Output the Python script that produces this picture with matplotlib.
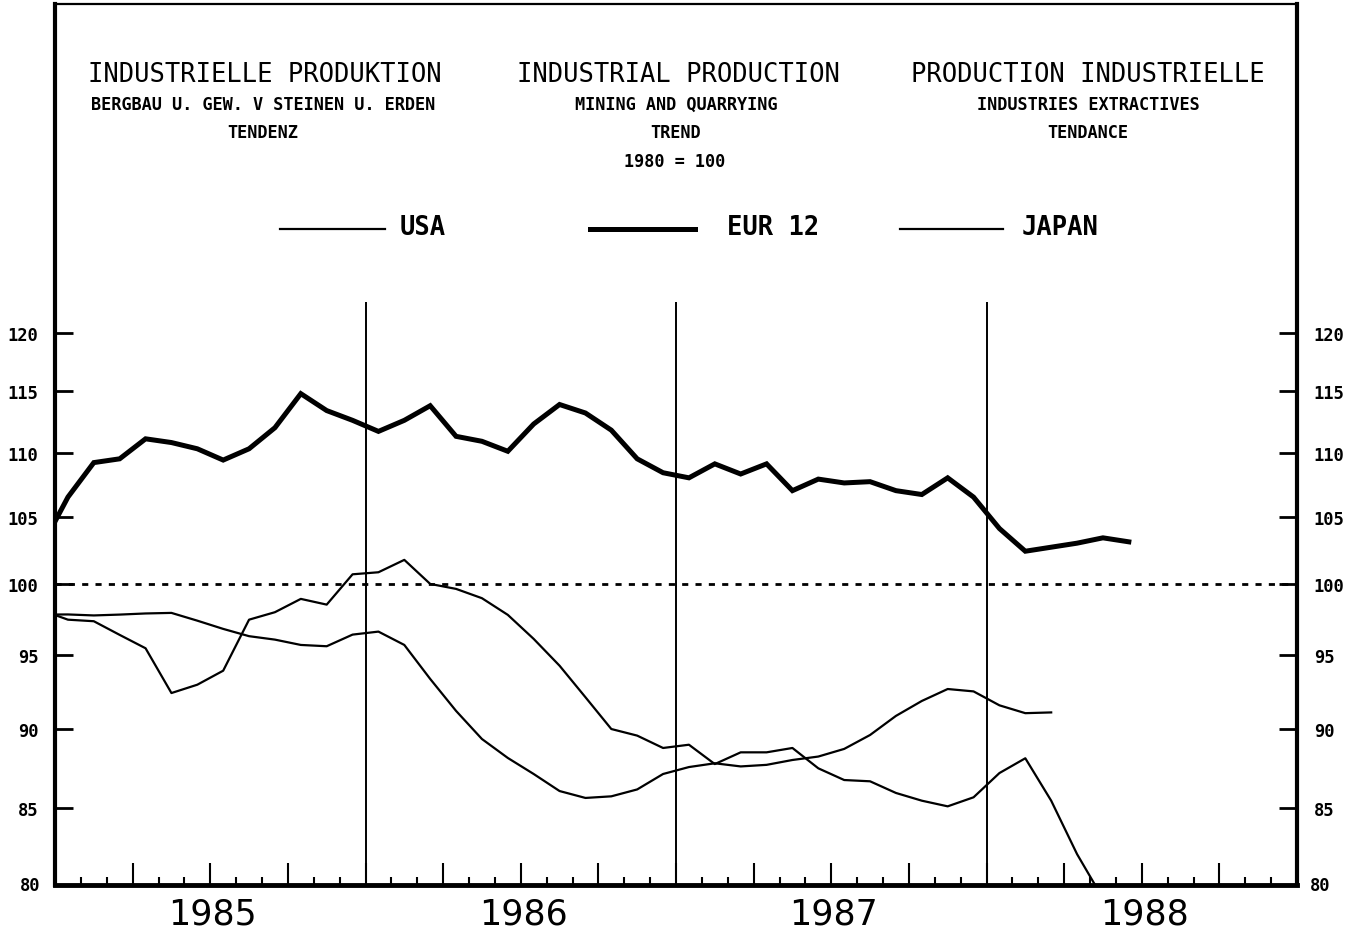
import numpy as np
import matplotlib
matplotlib.use("Agg")
import matplotlib.pyplot as plt
from matplotlib.lines import Line2D
from matplotlib.ticker import NullLocator, MultipleLocator, NullFormatter

# monthly values, first entry = Dec 1984 (clipped at the left edge)
eur12 = [102.8,
         106.5, 109.2, 109.5, 111.1, 110.8, 110.3, 109.4, 110.3, 112.0, 114.8, 113.4, 112.6,
         111.7, 112.6, 113.8, 111.3, 110.9, 110.1, 112.3, 113.9, 113.2, 111.8, 109.5, 108.4,
         108.0, 109.1, 108.3, 109.1, 107.0, 107.9, 107.6, 107.7, 107.0, 106.7, 108.0, 106.5,
         104.1, 102.4, 102.7, 103.0, 103.4, 103.1]
usa = [97.8,
       97.81, 97.74, 97.8, 97.88, 97.92, 97.37, 96.79, 96.28, 96.04, 95.67, 95.58, 96.39,
       96.6, 95.67, 93.34, 91.2, 89.36, 88.14, 87.12, 86.05, 85.62, 85.72, 86.15, 87.12,
       87.56, 87.8, 87.6, 87.7, 88.01, 88.23, 88.72, 89.62, 90.87, 91.86, 92.66, 92.5,
       91.57, 91.05, 91.1]
japan = [98.1,
         97.44, 97.33, 96.37, 95.44, 92.39, 92.95, 93.9, 97.44, 97.97, 98.92, 98.51, 100.7,
         100.85, 101.76, 100.0, 99.64, 98.97, 97.78, 96.09, 94.24, 92.11, 90.01, 89.58, 88.78,
         88.99, 87.75, 88.5, 88.5, 88.78, 87.48, 86.74, 86.66, 85.93, 85.45, 85.1, 85.66,
         87.18, 88.12, 85.45, 82.2, 79.6]
years = ["1985", "1986", "1987", "1988"]
y_ticks = [85, 90, 95, 100, 105, 110, 115, 120]

MONO = "DejaVu Sans Mono"
W, H = 1356, 937

fig = plt.figure(figsize=(W / 100, H / 100), dpi=100)
ax = fig.add_axes([55 / W, 51 / H, 1242 / W, 881 / H])

def mx(series):
    # month midpoints, Jan 1985 = 0.5, first value is Dec 1984
    return np.arange(len(series)) - 0.5

ax.plot(mx(eur12), eur12, color="black", lw=3.6, solid_joinstyle="miter", zorder=4)
ax.plot(mx(usa), usa, color="black", lw=1.6, zorder=4)
ax.plot(mx(japan), japan, color="black", lw=1.6, zorder=4)

ax.set_yscale("log")
ymin, ymax = 80.38, 152.3
ax.set_ylim(ymin, ymax)
ax.set_xlim(0, 48)

ax.axhline(100, color="black", lw=2, ls=(0, (2.2, 2.6)), zorder=2)
ax.vlines([12, 24, 36], ymin, 122.7, color="black", lw=1.4, zorder=3)

# axes ticks
ax.yaxis.set_minor_locator(NullLocator())
ax.yaxis.set_minor_formatter(NullFormatter())
ax.set_yticks(y_ticks)
ax.set_yticklabels([str(v) for v in y_ticks])
ax.tick_params(axis="y", which="major", direction="in", length=13, width=2,
               left=True, right=True, labelleft=True, labelright=True, pad=12)
for lab in ax.get_yticklabels():
    lab.set_fontfamily(MONO)
    lab.set_fontweight("bold")
    lab.set_fontsize(12.3)

ax.xaxis.set_major_locator(MultipleLocator(3))
ax.xaxis.set_minor_locator(MultipleLocator(1))
ax.xaxis.set_major_formatter(NullFormatter())
ax.tick_params(axis="x", which="major", direction="in", length=16, width=1.5, top=False)
ax.tick_params(axis="x", which="minor", direction="in", length=6, width=1.5, top=False)

for side, lw in [("left", 3), ("right", 3), ("bottom", 3.5), ("top", 1.6)]:
    ax.spines[side].set_linewidth(lw)

for tx in (-0.012, 1.0105):
    ax.text(tx, 0.0, "80", transform=ax.transAxes, ha="right" if tx < 0 else "left",
            va="center", fontfamily=MONO, fontweight="bold", fontsize=12.3)

for i, yr in enumerate(years):
    ax.text(i * 12 + 6.1, -0.0125, yr, transform=ax.get_xaxis_transform(),
            ha="center", va="top", fontsize=25, fontfamily="DejaVu Sans")

# titles
def ftext(x, y, s, size, weight="normal"):
    fig.text(x / W, 1 - y / H, s, ha="center", va="center", fontsize=size,
             fontfamily=MONO, fontweight=weight)

ftext(265, 75, "INDUSTRIELLE PRODUKTION", 18.4)
ftext(263, 105, "BERGBAU U. GEW. V STEINEN U. ERDEN", 12.2, "bold")
ftext(263, 133, "TENDENZ", 12.2, "bold")
ftext(678, 75, "INDUSTRIAL PRODUCTION", 18.4)
ftext(676, 105, "MINING AND QUARRYING", 12.2, "bold")
ftext(676, 133, "TREND", 12.2, "bold")
ftext(675, 162, "1980 = 100", 12.2, "bold")
ftext(1088, 75, "PRODUCTION INDUSTRIELLE", 18.4)
ftext(1088, 105, "INDUSTRIES EXTRACTIVES", 12.2, "bold")
ftext(1088, 133, "TENDANCE", 12.2, "bold")

# legend
legend_items = [("USA", 280, 385, 400, 1.6), ("EUR 12", 590, 695, 727, 3.6),
                ("JAPAN", 900, 1003, 1022, 1.6)]
for name, x0, x1, tx, lw in legend_items:
    fig.add_artist(Line2D([x0 / W, x1 / W], [1 - 230 / H, 1 - 230 / H],
                          color="black", lw=lw))
    fig.text(tx / W, 1 - 228 / H, name, ha="left", va="center", fontsize=18.4,
             fontfamily=MONO, fontweight="bold")

fig.savefig("out.png", dpi=100)
